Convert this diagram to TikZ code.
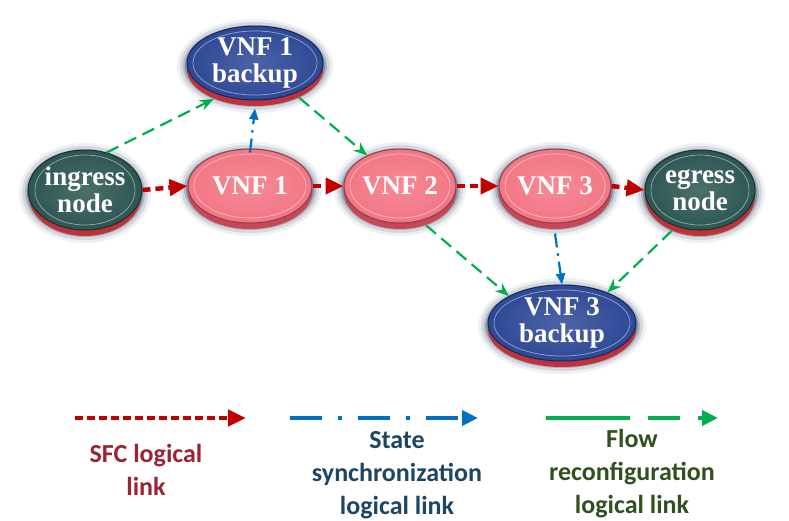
\documentclass[tikz,border=0pt]{standalone}
\usepackage{fontspec}
\setmainfont{Liberation Serif}
\newfontfamily\legfont{Carlito}
\usetikzlibrary{shapes.geometric,arrows.meta}
\definecolor{sfcred}{RGB}{192,0,0}
\definecolor{syncblue}{RGB}{0,112,192}
\definecolor{flowgreen}{RGB}{0,176,80}
\definecolor{pinkface}{RGB}{243,118,132}
\definecolor{pinkrim}{RGB}{200,70,85}
\definecolor{blueface}{RGB}{45,72,150}
\definecolor{bluerim}{RGB}{190,50,60}
\definecolor{greenface}{RGB}{44,86,82}
\definecolor{glowc}{RGB}{20,45,80}
\definecolor{legred}{RGB}{155,35,50}
\definecolor{legblue}{RGB}{30,70,100}
\definecolor{leggreen}{RGB}{50,80,30}
\tikzset{
  nodetext/.style={text=white, align=center, font=\bfseries\fontsize{27}{27}\selectfont},
  sfc/.style={sfcred, line width=4.5pt, dash pattern=on 8pt off 5pt, -{Triangle[length=18pt,width=16pt]}},
  sync/.style={syncblue, line width=2.2pt, dash pattern=on 14pt off 6pt on 2.5pt off 6pt, -{Triangle[length=11pt,width=9pt]}},
  flow/.style={flowgreen, line width=2.2pt, dash pattern=on 13pt off 7pt, -{Stealth[length=14pt,width=11pt]}},
  legtext/.style={align=center, font=\legfont\bfseries\fontsize{26}{33}\selectfont},
}
% name, x, y, rx, ry, face, rim, text
\newcommand\mkdisk[8]{%
  \foreach \g/\o in {10/0.07,7/0.12,4/0.2,2/0.3}{%
    \fill[glowc,opacity=\o] (#2,#3+3) ellipse [x radius=#4+\g, y radius=#5+\g];}
  \fill[#7] (#2,#3+6) ellipse [x radius=#4, y radius=#5];
  \node[ellipse, inner sep=0pt, minimum width={2*#4pt}, minimum height={2*#5pt},
        inner color=#6!85!white, outer color=#6, draw=#6!55!black, line width=1pt,
        nodetext] (#1) at (#2,#3) {#8};
  \draw[#6!50!white, line width=0.7pt] (#2,#3) ellipse [x radius=#4-6, y radius=#5-5];
}
\begin{document}
\begin{tikzpicture}[x=1pt,y=-1pt]
\useasboundingbox (0,0) rectangle (789,520);
\mkdisk{vnfb}{255}{63}{68}{37}{blueface}{bluerim}{VNF 1\\backup}
\mkdisk{ingress}{85}{190}{56}{40}{greenface}{bluerim}{ingress\\node}
\mkdisk{vnfa}{250}{186}{62}{37}{pinkface}{pinkrim}{VNF 1}
\mkdisk{vnfc}{400}{186}{56}{37}{pinkface}{pinkrim}{VNF 2}
\mkdisk{vnfd}{555}{186}{56}{37}{pinkface}{pinkrim}{VNF 3}
\mkdisk{egress}{700}{190}{55}{40}{greenface}{bluerim}{egress\\node}
\mkdisk{vnfe}{562}{323}{74}{38}{blueface}{bluerim}{VNF 3\\backup}
% SFC links
\draw[sfc] (ingress.east) -- (vnfa.west);
\draw[sfc] (vnfa.east) -- (vnfc.west);
\draw[sfc] (vnfc.east) -- (vnfd.west);
\draw[sfc] (vnfd.east) -- (egress.west);
% sync links
\draw[sync] ([yshift=-4pt]vnfa.north) -- ([yshift=-8pt]vnfb.south);
\draw[sync] ([yshift=-10pt]vnfd.south) -- (vnfe.north);
% flow links
\draw[flow] (ingress.60) -- ([yshift=-6pt]vnfb.216);
\draw[flow] ([yshift=-6pt]vnfb.-33) -- (vnfc.137);
\draw[flow] ([yshift=-6pt]vnfc.-52) -- (vnfe.153);
\draw[flow] ([yshift=-6pt]egress.231) -- (vnfe.34);
% legend
\coordinate (la1) at (75,418); \coordinate (la2) at (246,418);
\coordinate (lb1) at (290,418); \coordinate (lb2) at (478,418);
\coordinate (lc1) at (546,418); \coordinate (lc2) at (718,418);
\draw[sfcred, line width=4.5pt, dash pattern=on 8pt off 4pt, -{Triangle[length=18pt,width=16pt]}] (la1) -- (la2);
\draw[syncblue, line width=4pt, dash pattern=on 32pt off 16pt on 4pt off 16pt, -{Triangle[length=16pt,width=15pt]}] (lb1) -- (lb2);
\draw[flowgreen, line width=4pt, dash pattern=on 84pt off 18pt on 32pt off 18pt, -{Triangle[length=16pt,width=15pt]}] (lc1) -- (lc2);
\node[legtext, text=legred] (t1) at (146,470) {SFC logical\\link};
\node[legtext, text=legblue] (t2) at (397,475) {State\\synchronization\\logical link};
\node[legtext, text=leggreen] (t3) at (632,474) {Flow\\reconfiguration\\logical link};
\end{tikzpicture}
\end{document}
